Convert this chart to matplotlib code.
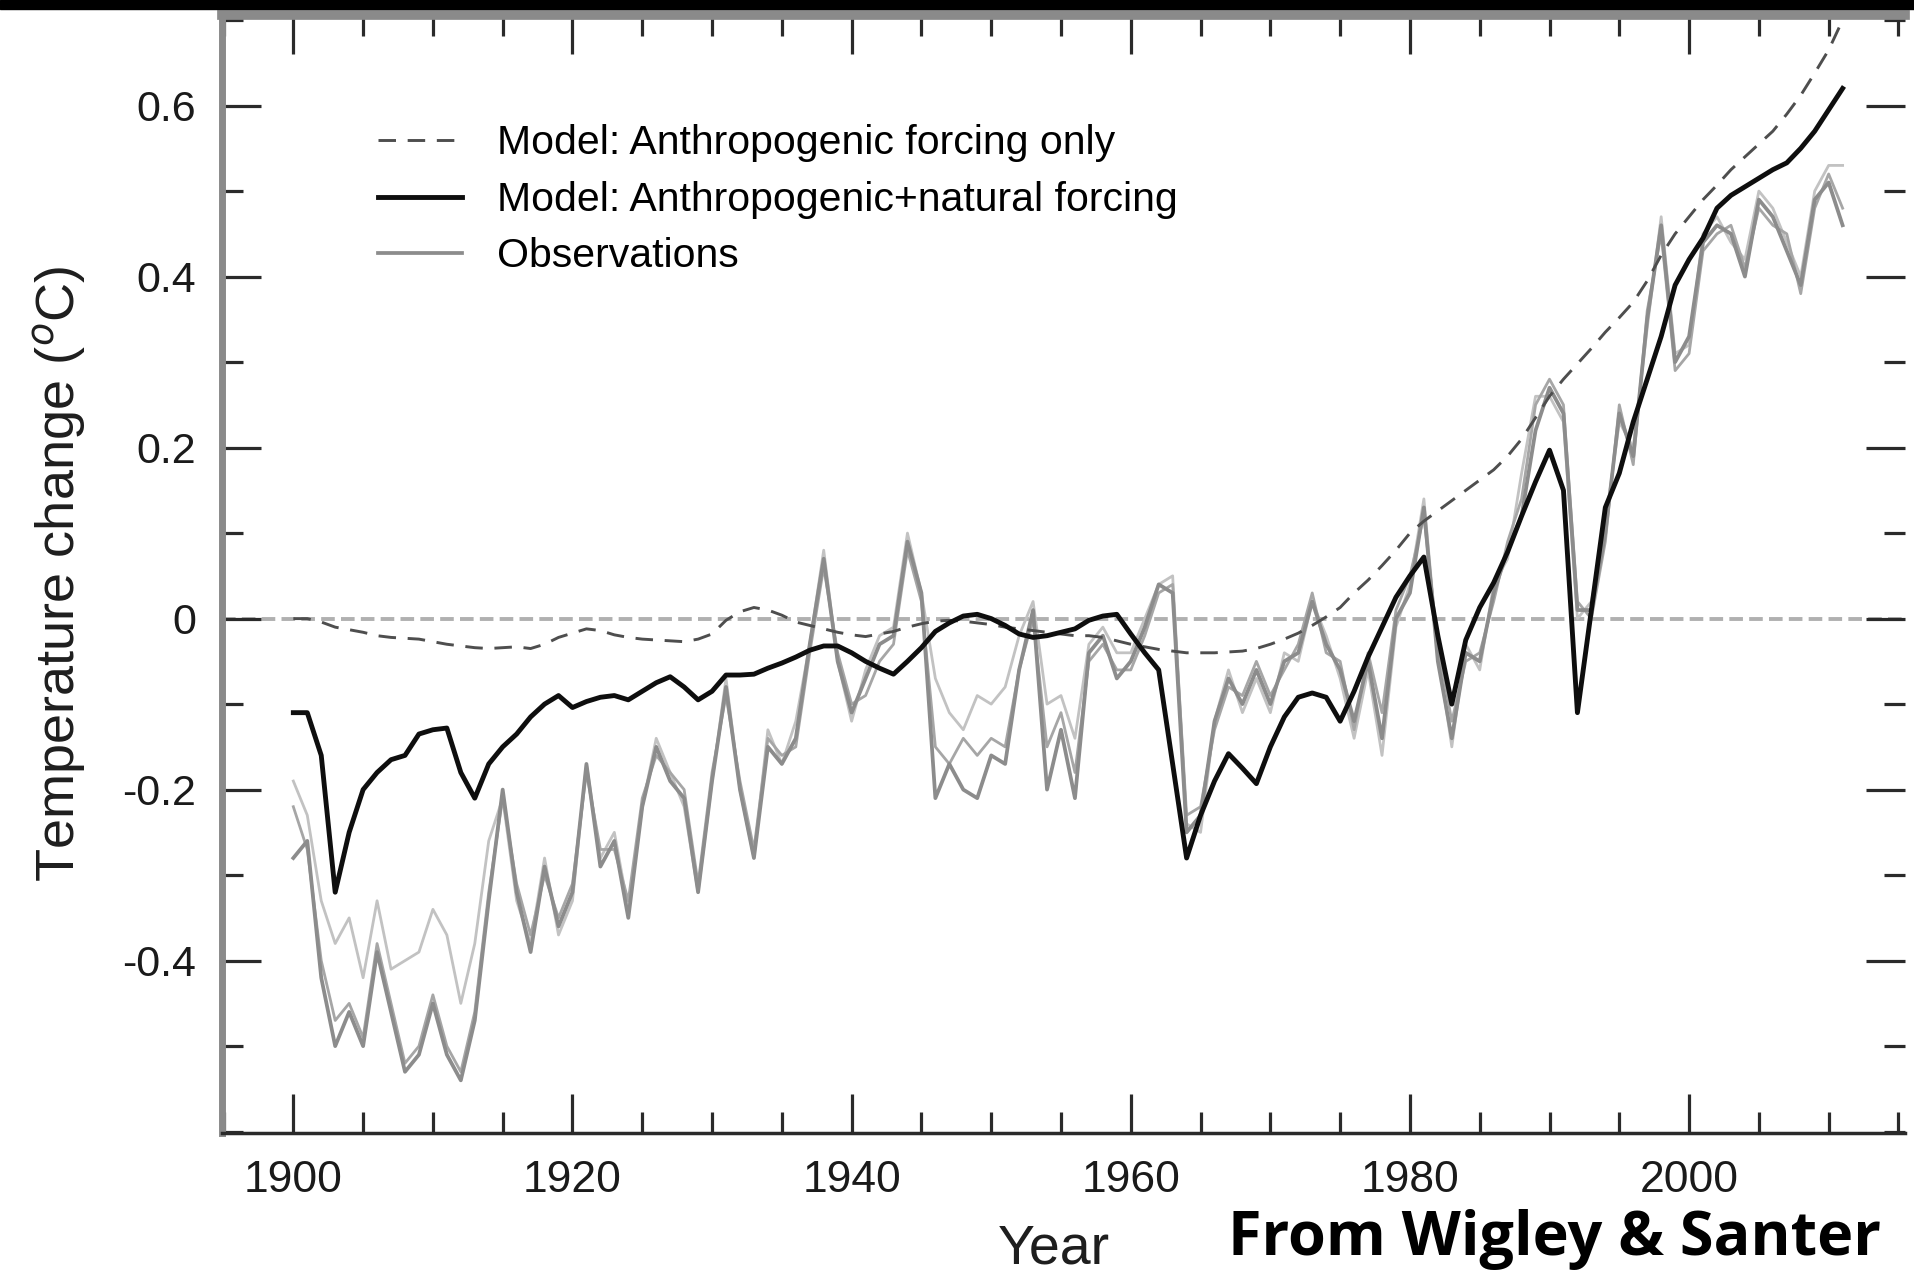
import numpy as np
import matplotlib
matplotlib.use("Agg")
import matplotlib.pyplot as plt
from matplotlib.ticker import MultipleLocator, FixedLocator, FixedFormatter
from matplotlib.patches import Rectangle

years = list(range(1900, 2012))

# Model: anthropogenic forcing only (dashed)
anthro_only = [
    0.0, 0.0, -0.004, -0.01, -0.013, -0.016, -0.02, -0.022, -0.023, -0.024,
    -0.027, -0.03, -0.032, -0.034, -0.035, -0.034, -0.033, -0.035, -0.03, -0.022,
    -0.017, -0.012, -0.014, -0.019, -0.022, -0.024, -0.025, -0.026, -0.027, -0.024,
    -0.018, -0.002, 0.008, 0.013, 0.01, 0.004, -0.004, -0.008, -0.012, -0.016,
    -0.019, -0.021, -0.018, -0.015, -0.01, -0.006, -0.003, -0.002, -0.003, -0.005,
    -0.007, -0.01, -0.012, -0.014, -0.016, -0.018, -0.02, -0.02, -0.022, -0.026,
    -0.03, -0.033, -0.036, -0.038, -0.04, -0.04, -0.04, -0.039, -0.038, -0.035,
    -0.03, -0.024, -0.017, -0.008, 0.002, 0.013, 0.03, 0.045, 0.062, 0.08,
    0.1, 0.114, 0.126, 0.138, 0.15, 0.162, 0.174, 0.19, 0.21, 0.235,
    0.26, 0.28, 0.298, 0.316, 0.335, 0.352, 0.37, 0.395, 0.425, 0.45,
    0.47, 0.49, 0.507, 0.525, 0.54, 0.555, 0.57, 0.59, 0.612, 0.638,
    0.665, 0.70,
]

# Model: anthropogenic + natural forcing (solid black)
anthro_natural = [
    -0.11, -0.11, -0.16, -0.32, -0.25, -0.20, -0.18, -0.165, -0.16, -0.135,
    -0.13, -0.128, -0.18, -0.21, -0.17, -0.15, -0.135, -0.115, -0.10, -0.09,
    -0.104, -0.097, -0.092, -0.09, -0.095, -0.085, -0.075, -0.068, -0.08, -0.095,
    -0.085, -0.066, -0.066, -0.065, -0.058, -0.052, -0.045, -0.037, -0.032, -0.032,
    -0.04, -0.05, -0.058, -0.065, -0.05, -0.034, -0.015, -0.005, 0.003, 0.005,
    0.0, -0.008, -0.018, -0.022, -0.02, -0.016, -0.012, -0.002, 0.003, 0.005,
    -0.018, -0.04, -0.06, -0.17, -0.28, -0.23, -0.19, -0.158, -0.175, -0.193,
    -0.15, -0.115, -0.092, -0.087, -0.092, -0.12, -0.085, -0.045, -0.01, 0.025,
    0.05, 0.072, -0.02, -0.10, -0.025, 0.013, 0.042, 0.078, 0.12, 0.16,
    0.197, 0.15, -0.11, 0.01, 0.13, 0.17, 0.23, 0.28, 0.33, 0.39,
    0.42, 0.445, 0.48, 0.495, 0.505, 0.515, 0.525, 0.533, 0.55, 0.57,
    0.595, 0.62,
]

# Observations (three datasets)
obs_a = [
    -0.28, -0.26, -0.42, -0.50, -0.46, -0.50, -0.39, -0.46, -0.53, -0.51,
    -0.45, -0.51, -0.54, -0.47, -0.33, -0.20, -0.32, -0.39, -0.29, -0.36,
    -0.32, -0.17, -0.29, -0.26, -0.35, -0.22, -0.15, -0.19, -0.21, -0.32,
    -0.19, -0.08, -0.20, -0.28, -0.15, -0.17, -0.14, -0.03, 0.07, -0.05,
    -0.11, -0.07, -0.03, -0.02, 0.09, 0.03, -0.21, -0.17, -0.20, -0.21,
    -0.16, -0.17, -0.06, 0.01, -0.20, -0.13, -0.21, -0.04, -0.02, -0.07,
    -0.05, -0.01, 0.04, 0.03, -0.25, -0.23, -0.12, -0.07, -0.10, -0.06,
    -0.10, -0.05, -0.04, 0.02, -0.03, -0.06, -0.12, -0.05, -0.14, 0.00,
    0.03, 0.13, -0.05, -0.14, -0.04, -0.05, 0.03, 0.08, 0.12, 0.22,
    0.27, 0.24, 0.01, 0.01, 0.10, 0.24, 0.19, 0.35, 0.46, 0.30,
    0.33, 0.44, 0.46, 0.45, 0.40, 0.49, 0.47, 0.43, 0.39, 0.49,
    0.51, 0.46,
]

obs_b = [
    -0.22, -0.27, -0.40, -0.47, -0.45, -0.49, -0.38, -0.45, -0.52, -0.50,
    -0.44, -0.50, -0.53, -0.46, -0.32, -0.21, -0.31, -0.37, -0.30, -0.35,
    -0.31, -0.18, -0.27, -0.27, -0.33, -0.21, -0.16, -0.18, -0.20, -0.31,
    -0.18, -0.09, -0.19, -0.27, -0.14, -0.16, -0.15, -0.04, 0.06, -0.04,
    -0.10, -0.09, -0.05, -0.03, 0.08, 0.02, -0.15, -0.17, -0.14, -0.16,
    -0.14, -0.15, -0.06, 0.00, -0.15, -0.11, -0.18, -0.05, -0.03, -0.06,
    -0.06, -0.02, 0.03, 0.04, -0.23, -0.22, -0.13, -0.08, -0.09, -0.05,
    -0.09, -0.06, -0.03, 0.03, -0.04, -0.05, -0.13, -0.04, -0.11, 0.01,
    0.05, 0.12, -0.03, -0.12, -0.05, -0.04, 0.02, 0.09, 0.14, 0.25,
    0.28, 0.25, 0.02, 0.00, 0.09, 0.25, 0.18, 0.36, 0.45, 0.29,
    0.31, 0.43, 0.45, 0.46, 0.41, 0.48, 0.46, 0.45, 0.38, 0.48,
    0.52, 0.48,
]

obs_c = [
    -0.19, -0.23, -0.33, -0.38, -0.35, -0.42, -0.33, -0.41, -0.40, -0.39,
    -0.34, -0.37, -0.45, -0.38, -0.26, -0.21, -0.33, -0.38, -0.28, -0.37,
    -0.33, -0.17, -0.28, -0.25, -0.34, -0.22, -0.14, -0.18, -0.22, -0.32,
    -0.19, -0.07, -0.20, -0.28, -0.13, -0.17, -0.12, -0.03, 0.08, -0.05,
    -0.12, -0.06, -0.02, -0.01, 0.10, 0.03, -0.07, -0.11, -0.13, -0.09,
    -0.10, -0.08, -0.02, 0.02, -0.10, -0.09, -0.14, -0.03, -0.01, -0.04,
    -0.04, 0.00, 0.04, 0.05, -0.24, -0.25, -0.12, -0.06, -0.11, -0.07,
    -0.11, -0.04, -0.05, 0.02, -0.02, -0.07, -0.14, -0.06, -0.16, -0.01,
    0.04, 0.14, -0.04, -0.15, -0.03, -0.06, 0.04, 0.07, 0.17, 0.26,
    0.26, 0.23, 0.00, 0.02, 0.11, 0.23, 0.20, 0.34, 0.47, 0.31,
    0.32, 0.45, 0.47, 0.44, 0.42, 0.50, 0.48, 0.44, 0.40, 0.50,
    0.53, 0.53,
]

ytick_vals = [-0.4, -0.2, 0.0, 0.2, 0.4, 0.6]
ytick_labels = ["-0.4", "-0.2", "0", "0.2", "0.4", "0.6"]
xtick_vals = [1900, 1920, 1940, 1960, 1980, 2000]

plt.rcParams['font.family'] = ['Liberation Sans', 'DejaVu Sans']

fig = plt.figure(figsize=(19.15, 12.72), dpi=100)
ax = fig.add_axes([0.116, 0.109, 0.879, 0.879])

# zero reference line
ax.axhline(0, color='#b0b0b0', lw=2.8, ls=(0, (3.5, 1.6)), zorder=1)

ax.plot(years, obs_c, color='#c2c2c2', lw=2.0, zorder=2)
ax.plot(years, obs_b, color='#a6a6a6', lw=2.0, zorder=2)
obs_line, = ax.plot(years, obs_a, color='#8c8c8c', lw=2.7, zorder=3)
dash_line, = ax.plot(years, anthro_only, color='#4e4e4e', lw=2.1,
                     ls=(0, (6, 4)), zorder=4)
black_line, = ax.plot(years, anthro_natural, color='#0e0e0e', lw=3.5, zorder=5)

ax.set_xlim(1894.9, 2015.5)
ax.set_ylim(-0.602, 0.7056)

ax.xaxis.set_major_locator(FixedLocator(xtick_vals))
ax.xaxis.set_minor_locator(MultipleLocator(5))
ax.yaxis.set_major_locator(FixedLocator(ytick_vals))
ax.yaxis.set_major_formatter(FixedFormatter(ytick_labels))
ax.yaxis.set_minor_locator(MultipleLocator(0.1))

ax.tick_params(axis='both', which='both', direction='in', colors='#2a2a2a',
               width=2.3, top=True, right=True)
ax.tick_params(axis='both', which='major', length=28)
ax.tick_params(axis='both', which='minor', length=15)
ax.tick_params(axis='x', which='major', labelsize=32, pad=19)
ax.tick_params(axis='y', which='major', labelsize=31, pad=19)
for lab in ax.get_xticklabels() + ax.get_yticklabels():
    lab.set_color('#1a1a1a')

ax.spines['right'].set_visible(False)
ax.spines['left'].set_color('#8a8a8a')
ax.spines['left'].set_linewidth(5)
ax.spines['top'].set_color('#8a8a8a')
ax.spines['top'].set_linewidth(7)
ax.spines['bottom'].set_color('#2a2a2a')
ax.spines['bottom'].set_linewidth(2.5)

ax.set_ylabel('Temperature change ($^o$C)', fontsize=39, color='#1e1e1e',
              labelpad=24)
ax.set_xlabel('Year', fontsize=40, color='#1e1e1e', va='baseline')
ax.xaxis.set_label_coords(0.494, -0.116)

ax.legend([dash_line, black_line, obs_line],
          ['Model: Anthropogenic forcing only',
           'Model: Anthropogenic+natural forcing',
           'Observations'],
          loc='upper left', bbox_to_anchor=(0.083, 0.917), frameon=False,
          fontsize=29.5, handlelength=2.05, handletextpad=0.85,
          labelspacing=0.45, borderaxespad=0)

fig.text(0.982, 0.0134, 'From Wigley & Santer', fontsize=44,
         fontfamily=['Open Sans', 'DejaVu Sans'], fontweight='bold',
         color='black', ha='right', va='baseline')

# black band at the top edge of the picture
fig.patches.append(Rectangle((0, 0.993), 1, 0.007, transform=fig.transFigure,
                             color='black', zorder=10))

fig.savefig('out.png', dpi=100)
